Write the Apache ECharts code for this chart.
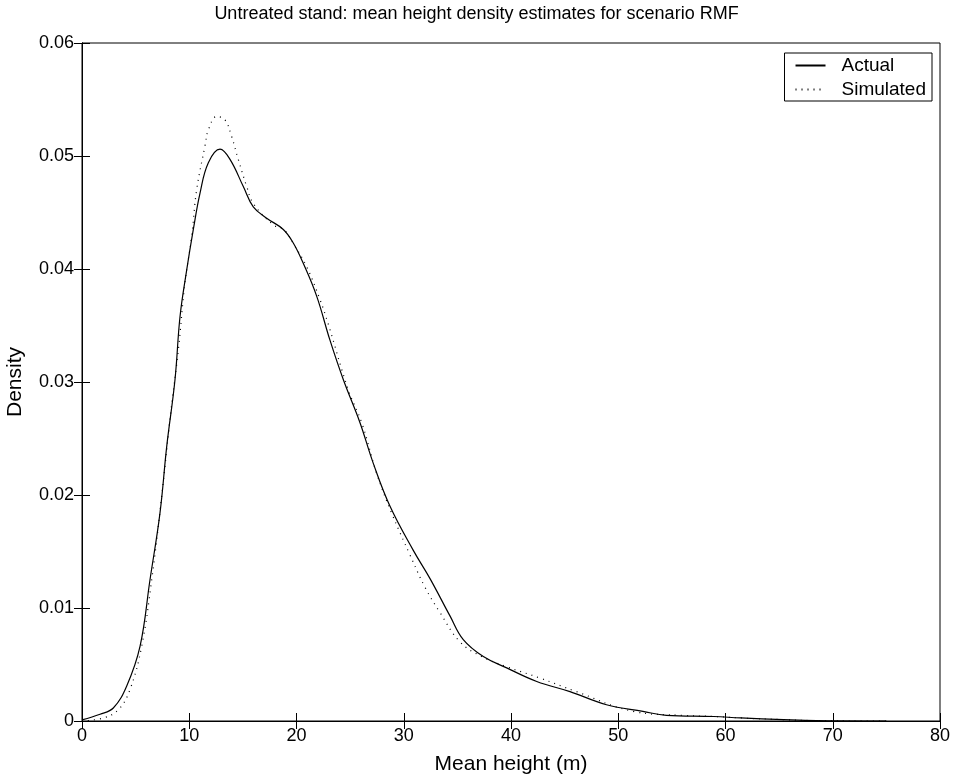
<!DOCTYPE html>
<html><head><meta charset="utf-8">
<script src="https://cdn.jsdelivr.net/npm/echarts@6/dist/echarts.min.js"></script>
<style>html,body{margin:0;padding:0;background:#fff}#c{width:953px;height:776px}</style>
</head><body><div id="c"></div>
<script>
const actualX = [0,1.68,2.92,4.17,5.41,6.34,7.27,7.9,8.67,9.14,9.76,10.38,11.0,11.78,12.87,13.8,15.04,15.97,17.22,18.77,19.7,20.63,21.88,23.12,24.37,25.92,27.16,28.72,30.89,32.45,34.31,35.55,37.42,39.6,42.4,45.5,48.9,52.3,54.5,58.9,61.4,65.4,68.5,72.9,75];
const actualY = [0.0001,0.0006,0.00115,0.0031,0.0066,0.0125,0.0184,0.0243,0.0302,0.0358,0.0399,0.0435,0.0467,0.0494,0.0506,0.0497,0.0473,0.0455,0.0445,0.0435,0.0423,0.0405,0.0376,0.0337,0.0302,0.0264,0.0228,0.019,0.0151,0.0126,0.0093,0.0072,0.0057,0.0047,0.0035,0.0026,0.00144,0.00085,0.0005,0.0004,0.00027,0.00012,0.00003,0,0];
const simX = [0,2.0,3.39,4.48,5.56,6.5,7.43,8.3,9.0,9.6,10.23,10.69,11.47,11.78,12.56,13.33,13.96,14.57,15.36,15.97,17.84,18.8,19.8,20.95,22.19,22.97,24.83,26.08,27.48,28.87,30.58,32.0,33.38,35.24,37.27,39.6,42.7,46.1,51.4,56,58.9,61.4,65.4,68.5,72.9,75];
const simY = [0,0.00027,0.001,0.0028,0.0066,0.0125,0.0199,0.0275,0.033,0.0388,0.0429,0.047,0.0509,0.0523,0.0535,0.0532,0.0517,0.0497,0.0473,0.0458,0.0439,0.0435,0.0421,0.0402,0.0373,0.0351,0.0293,0.0264,0.0219,0.0184,0.0147,0.0118,0.0096,0.007,0.0057,0.0048,0.0038,0.0026,0.00085,0.0005,0.0004,0.00027,0.00012,0.00003,0,0];
const xTicks = [0,10,20,30,40,50,60,70,80];
const yTicks = [0,0.01,0.02,0.03,0.04,0.05,0.06];
const seriesNames = ['Actual', 'Simulated'];

const F = 'Liberation Sans, Arial, Helvetica, sans-serif';
const chart = echarts.init(document.getElementById('c'));
const pair = (xs, ys) => xs.map((x, i) => [x, ys[i]]);
const axLine = {show: true, lineStyle: {color: '#000', width: 1}};
const tick = {show: true, inside: true, length: 8, lineStyle: {color: '#000'}};
chart.setOption({
  animation: false,
  backgroundColor: '#fff',
  title: {text: 'Untreated stand: mean height density estimates for scenario RMF', left: 'center', top: 0,
    textStyle: {fontFamily: F, fontSize: 18, fontWeight: 'normal', color: '#000'}},
  grid: {left: 82, right: 13, top: 43, bottom: 55, show: true, borderColor: '#000', borderWidth: 1,
    outerBoundsMode: 'none', containLabel: false},
  legend: {show: true, right: 21, top: 53, orient: 'vertical', itemWidth: 30, itemHeight: 14, itemGap: 5,
    padding: [3, 6, 2, 10], borderColor: '#000', borderWidth: 1, backgroundColor: '#fff',
    itemStyle: {color: 'transparent', borderWidth: 0, opacity: 0},
    textStyle: {fontFamily: F, fontSize: 19, color: '#000', padding: [0, 0, 0, 11]},
    data: seriesNames},
  xAxis: [
    {type: 'value', min: 0, max: 80, interval: 10, position: 'bottom', axisLine: axLine, axisTick: tick,
      splitLine: {show: false},
      axisLabel: {fontFamily: F, fontSize: 18, color: '#000', margin: 6,
        formatter: v => xTicks.includes(v) ? String(v) : ''},
      name: 'Mean height (m)', nameLocation: 'middle', nameGap: 33,
      nameTextStyle: {fontFamily: F, fontSize: 21, color: '#000'}},
    {type: 'value', min: 0, max: 80, interval: 10, position: 'top', axisLine: axLine, axisTick: tick,
      axisLabel: {show: false}, splitLine: {show: false}}
  ],
  yAxis: [
    {type: 'value', min: 0, max: 0.06, interval: 0.01, position: 'left', axisLine: axLine, axisTick: tick,
      splitLine: {show: false},
      axisLabel: {fontFamily: F, fontSize: 18, color: '#000', margin: 8,
        formatter: v => { const t = yTicks.find(k => Math.abs(k - v) < 1e-9); return t === undefined ? '' : (t === 0 ? '0' : t.toFixed(2)); }},
      name: 'Density', nameLocation: 'middle', nameGap: 56,
      nameTextStyle: {fontFamily: F, fontSize: 21, color: '#000'}},
    {type: 'value', min: 0, max: 0.06, interval: 0.01, position: 'right', axisLine: axLine, axisTick: tick,
      axisLabel: {show: false}, splitLine: {show: false}}
  ],
  series: [
    {name: seriesNames[0], type: 'line', data: pair(actualX, actualY), symbol: 'none', smooth: 0.4,
      lineStyle: {color: '#000', width: 1.2}, itemStyle: {color: '#000'}},
    {name: seriesNames[1], type: 'line', data: pair(simX, simY), symbol: 'none', smooth: 0.4,
      lineStyle: {color: '#000', width: 1.2, type: [1, 5]}, itemStyle: {color: '#000'}}
  ]
});
</script></body></html>
